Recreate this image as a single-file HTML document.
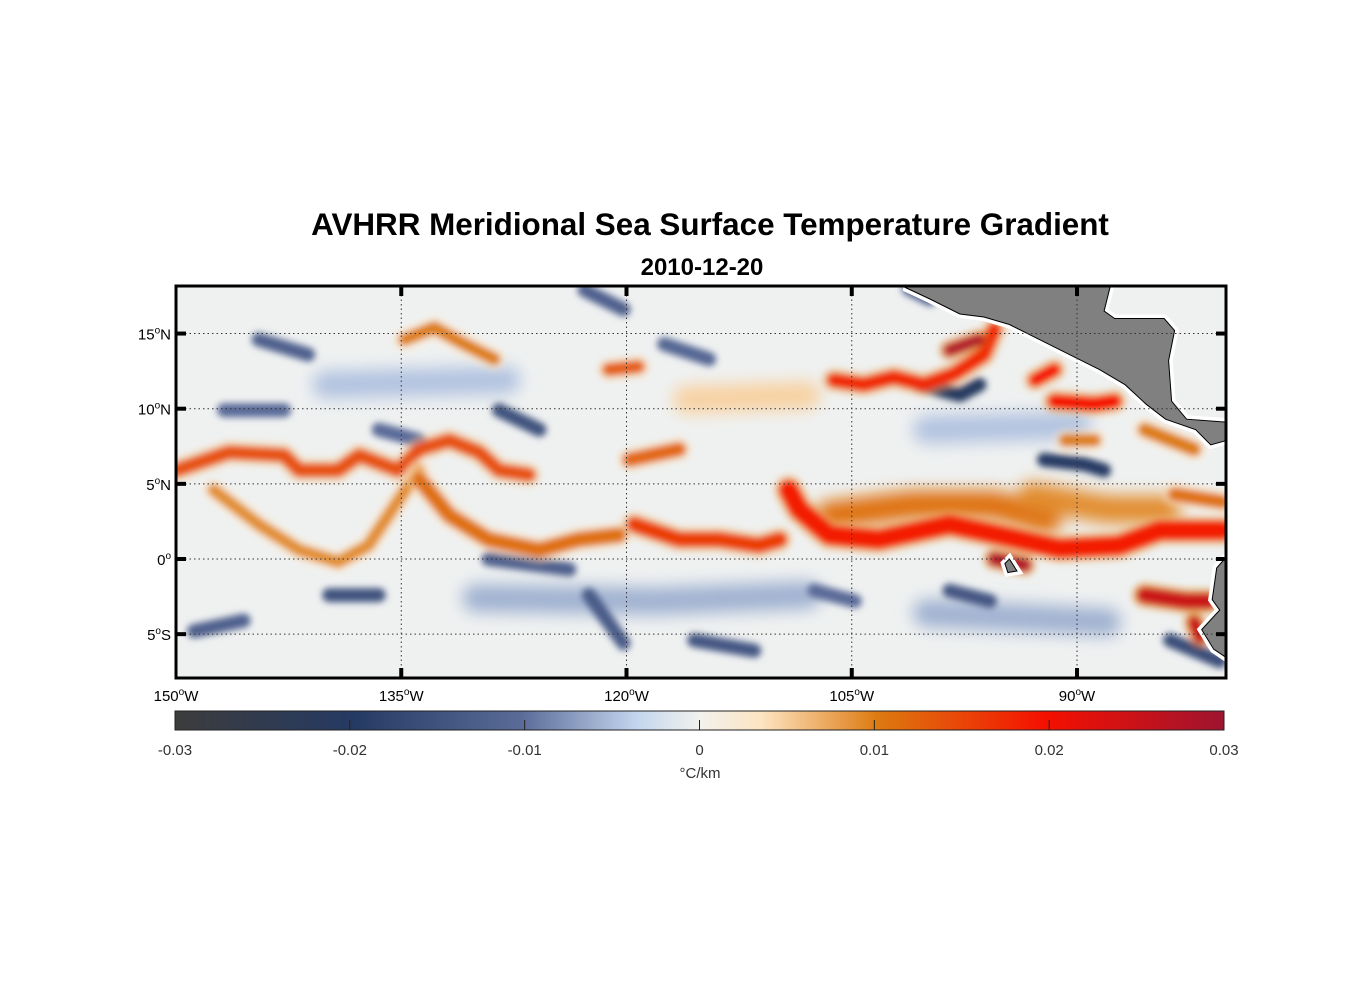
<!DOCTYPE html>
<html><head><meta charset="utf-8"><style>
body{margin:0;background:#fff;font-family:"Liberation Sans",Arial,sans-serif}
</style></head><body>
<svg width="1356" height="1000" viewBox="0 0 1356 1000" xmlns="http://www.w3.org/2000/svg" font-family="Liberation Sans, Arial, sans-serif">
<defs>
<filter id="blur" x="-20%" y="-20%" width="140%" height="140%"><feGaussianBlur stdDeviation="3.5"/></filter>
<filter id="blur2" x="-20%" y="-20%" width="140%" height="140%"><feGaussianBlur stdDeviation="8"/></filter>
<clipPath id="mapclip"><rect x="176" y="286" width="1050" height="392"/></clipPath>
<linearGradient id="cbgrad" x1="0" x2="1" y1="0" y2="0">
<stop offset="0" stop-color="#3c3c3c"/><stop offset="0.17" stop-color="#253a63"/>
<stop offset="0.33" stop-color="#5a6b98"/><stop offset="0.44" stop-color="#c3d5ee"/>
<stop offset="0.5" stop-color="#f2f2ee"/><stop offset="0.56" stop-color="#fde3c0"/>
<stop offset="0.67" stop-color="#dd7a10"/><stop offset="0.83" stop-color="#f51000"/>
<stop offset="1" stop-color="#9e1430"/></linearGradient>
</defs>
<text x="710" y="235" text-anchor="middle" font-size="31.4" font-weight="bold">AVHRR Meridional Sea Surface Temperature Gradient</text>
<text x="702" y="275" text-anchor="middle" font-size="24" font-weight="bold">2010-12-20</text>
<g clip-path="url(#mapclip)">
<rect x="176" y="286" width="1050" height="392" fill="#eff1f1"/>
<g id="soft" filter="url(#blur2)"></g>
<g id="field" filter="url(#blur)"></g>
<g id="land"></g>
</g>
<g id="grid"></g>
<rect x="176" y="286" width="1050" height="392" fill="none" stroke="#000" stroke-width="3"/>
<g id="axes"></g>
<rect x="175" y="711" width="1049" height="19" fill="url(#cbgrad)" stroke="#222" stroke-width="1"/>
<g id="cbticks"></g>
<text x="700" y="778" text-anchor="middle" font-size="15" fill="#333">°C/km</text>
</svg>
<script>
const lonTicks=[-150,-135,-120,-105,-90];
const latTicks=[15,10,5,0,-5];
const cbTicks=[-0.03,-0.02,-0.01,0,0.01,0.02,0.03];
const cbLabels=["-0.03","-0.02","-0.01","0","0.01","0.02","0.03"];
const frontValues=[0.014,0.009,0.011,0.016,0.012,0.019,0.018,0.028,0.02,0.02,0.025,0.025,0.028,0.01,0.013,0.01,0.01,0.011];
const frontWidths=[0.9,0.8,1.0,1.0,0.9,1.3,0.9,0.7,0.8,0.9,1.0,0.8,0.8,0.8,0.8,0.8,0.9,0.9];
const frontPaths=[
[[-150,5.9],[-146.5,7.1],[-142.8,6.9],[-141.8,5.9],[-139.2,5.9],[-137.8,6.9],[-135.2,5.9],[-133.8,7.3],[-131.8,7.9],[-129.8,7.1],[-128.5,5.9],[-126.5,5.6]],
[[-147.5,4.6],[-144.5,2.3],[-141.8,0.6],[-139.2,-0.2],[-137.2,0.9],[-135.2,3.9],[-133.8,5.9]],
[[-133.8,5.3],[-131.8,2.9],[-129.2,1.3],[-125.8,0.6],[-123.2,1.3],[-120.5,1.6]],
[[-119.5,2.3],[-116.5,1.3],[-113.8,1.3],[-111.2,0.9],[-109.8,1.3]],
[[-119.8,6.6],[-116.5,7.3]],
[[-109.2,4.6],[-108.5,3.3],[-106.5,1.6],[-103.2,1.3],[-98.5,2.3],[-95.2,1.6],[-91.2,0.7],[-87.2,0.9],[-84.5,1.9],[-80.3,1.9]],
[[-106.2,11.9],[-104.2,11.6],[-102.2,12.1],[-100.2,11.6],[-98.2,12.3],[-96.2,13.6],[-95.5,15.3]],
[[-98.5,13.9],[-96.5,14.6]],
[[-92.8,11.9],[-91.5,12.6]],
[[-91.5,10.5],[-88.8,10.3],[-87.5,10.5]],
[[-85.5,-2.4],[-82.8,-2.8],[-81.2,-2.8]],
[[-82.2,-4.2],[-81.8,-5.2]],
[[-95.5,0],[-93.5,-0.4]],
[[-134.8,14.6],[-132.8,15.4],[-130.8,14.3],[-128.8,13.3]],
[[-121.2,12.6],[-119.2,12.8]],
[[-90.8,7.9],[-88.8,7.9]],
[[-85.5,8.6],[-82.2,7.3]],
[[-83.5,4.3],[-80.3,3.8]]
];
const broadValues=[0.011,0.009,-0.006,-0.006,-0.005,0.005,-0.005];
const broadPaths=[
[[-106.5,2.9],[-101,3.6],[-95.5,3.6],[-92,2.6]],
[[-93,4.2],[-88,3.3],[-84,3.3]],
[[-130,-2.6],[-118,-2.8],[-108,-2.4]],
[[-100,-3.6],[-88,-4.2]],
[[-140,11.6],[-128,11.9]],
[[-116,10.6],[-108,10.9]],
[[-100,8.6],[-90,8.9]]
];
const eddyValues=[-0.015,-0.015,-0.021,-0.02,-0.014,-0.012,-0.012,-0.014,-0.016,-0.01,-0.012,-0.01,-0.01,-0.012,-0.013,-0.012,-0.011];
const eddyPaths=[
[[-128.5,9.9],[-125.8,8.6]],
[[-139.8,-2.4],[-136.5,-2.4]],
[[-100.5,11.6],[-97.8,10.9],[-96.5,11.6]],
[[-92.2,6.6],[-89.5,6.3],[-88.2,5.9]],
[[-115.5,-5.4],[-111.5,-6.1]],
[[-129.2,0],[-123.8,-0.7]],
[[-101.2,18],[-99.8,17.3]],
[[-98.5,-2.1],[-95.8,-2.8]],
[[-83.8,-5.4],[-80.5,-6.8]],
[[-146.8,9.9],[-142.8,9.9]],
[[-122.8,17.9],[-120.2,16.6]],
[[-136.5,8.6],[-133.8,7.9]],
[[-107.5,-2.1],[-104.8,-2.8]],
[[-148.8,-4.8],[-145.5,-4.1]],
[[-122.5,-2.4],[-120.2,-5.6]],
[[-144.5,14.6],[-141.2,13.6]],
[[-117.5,14.3],[-114.5,13.3]]
];
const landPolys=[
[[-101.5,18.1],[-87.8,18.1],[-88.2,16.5],[-87.5,16.0],[-84.2,16.0],[-83.5,15.2],[-83.9,13.2],[-83.7,10.5],[-82.7,9.3],[-80,9.1],[-80,7.9],[-81.1,7.6],[-82.1,8.6],[-84.1,9.3],[-85.4,10.3],[-86.8,11.6],[-88.5,12.6],[-90.5,13.6],[-92.5,14.6],[-94.5,15.6],[-96.2,16.1],[-97.8,16.3],[-99.8,17.3]],
[[-80,0.2],[-80.7,-0.6],[-81.0,-2.7],[-80.5,-3.4],[-81.7,-4.7],[-80.9,-6],[-80,-6.6]],
[[-94.5,0],[-94.0,-0.8],[-94.6,-0.9],[-94.8,-0.3]]
];
const X=lon=>176+(lon+150)*15.017;
const Y=lat=>559-lat*15.03;
const NS="http://www.w3.org/2000/svg";
function col(v){
 const s=[[-0.03,[60,60,60]],[-0.02,[37,58,99]],[-0.01,[90,107,152]],[-0.004,[195,213,238]],[0,[242,242,238]],[0.004,[253,227,192]],[0.01,[221,122,16]],[0.02,[245,16,0]],[0.03,[158,20,48]]];
 v=Math.max(-0.03,Math.min(0.03,v));
 for(let i=0;i<s.length-1;i++){if(v<=s[i+1][0]){const t=(v-s[i][0])/(s[i+1][0]-s[i][0]);const c=s[i][1].map((a,k)=>Math.round(a+(s[i+1][1][k]-a)*t));return`rgb(${c})`;}}
 return"rgb(158,20,48)";
}
const pathD=pts=>pts.map((p,i)=>(i?"L":"M")+X(p[0]).toFixed(1)+","+Y(p[1]).toFixed(1)).join("");
const soft=document.getElementById("soft");
broadPaths.forEach((pts,i)=>{
 const p=document.createElementNS(NS,"path");
 p.setAttribute("d",pathD(pts));p.setAttribute("fill","none");p.setAttribute("stroke",col(broadValues[i]));
 p.setAttribute("stroke-width",28);p.setAttribute("stroke-linecap","round");p.setAttribute("stroke-linejoin","round");
 
 
 soft.appendChild(p);
});
const field=document.getElementById("field");
eddyPaths.forEach((pts,i)=>{
 const p=document.createElementNS(NS,"path");
 p.setAttribute("d",pathD(pts));p.setAttribute("fill","none");p.setAttribute("stroke",col(eddyValues[i]));
 p.setAttribute("stroke-width",14);p.setAttribute("stroke-linecap","round");p.setAttribute("stroke-linejoin","round");
 
 
 field.appendChild(p);
});
frontPaths.forEach((pts,i)=>{
 const h=document.createElementNS(NS,"path");
 h.setAttribute("d",pathD(pts));h.setAttribute("fill","none");h.setAttribute("stroke",col(frontValues[i]*0.4));
 h.setAttribute("stroke-width",frontWidths[i]*15.03+10);h.setAttribute("stroke-linecap","round");h.setAttribute("stroke-linejoin","round");h.setAttribute("opacity","0.5");
 
 
 field.appendChild(h);
 const p=document.createElementNS(NS,"path");
 p.setAttribute("d",pathD(pts));p.setAttribute("fill","none");p.setAttribute("stroke",col(frontValues[i]));
 p.setAttribute("stroke-width",frontWidths[i]*15.03);p.setAttribute("stroke-linecap","round");p.setAttribute("stroke-linejoin","round");
 
 
 field.appendChild(p);
});
const land=document.getElementById("land");
landPolys.forEach(pts=>{
 const p=document.createElementNS(NS,"path");
 p.setAttribute("d",pathD(pts)+"Z");p.setAttribute("fill","#808080");p.setAttribute("stroke","#fff");p.setAttribute("stroke-width","8");p.setAttribute("paint-order","stroke");
 
 
 land.appendChild(p);
 const o=document.createElementNS(NS,"path");
 o.setAttribute("d",pathD(pts)+"Z");o.setAttribute("fill","#808080");o.setAttribute("stroke","#000");o.setAttribute("stroke-width","1");
 
 
 land.appendChild(o);
});
const grid=document.getElementById("grid"),axes=document.getElementById("axes");
lonTicks.forEach(l=>{
 const x=X(l);
 if(l>-150){const g=document.createElementNS(NS,"line");g.setAttribute("x1",x);g.setAttribute("x2",x);g.setAttribute("y1",286);g.setAttribute("y2",678);g.setAttribute("stroke","#333");g.setAttribute("stroke-width","1");g.setAttribute("stroke-dasharray","1.5 3");
 
 
 grid.appendChild(g);
 [[286,296],[668,678]].forEach(([a,b])=>{const t=document.createElementNS(NS,"line");t.setAttribute("x1",x);t.setAttribute("x2",x);t.setAttribute("y1",a);t.setAttribute("y2",b);t.setAttribute("stroke","#000");t.setAttribute("stroke-width","4");
 
 
 axes.appendChild(t);});}
 const tx=document.createElementNS(NS,"text");tx.setAttribute("x",x);tx.setAttribute("y",701);tx.setAttribute("text-anchor","middle");tx.setAttribute("font-size","15");
 tx.innerHTML=Math.abs(l)+'<tspan dy="-6" font-size="10">o</tspan><tspan dy="6">W</tspan>';
 
 
 axes.appendChild(tx);
});
latTicks.forEach(l=>{
 const y=Y(l);
 const g=document.createElementNS(NS,"line");g.setAttribute("x1",176);g.setAttribute("x2",1226);g.setAttribute("y1",y);g.setAttribute("y2",y);g.setAttribute("stroke","#333");g.setAttribute("stroke-width","1");g.setAttribute("stroke-dasharray","1.5 3");
 
 
 grid.appendChild(g);
 [[176,186],[1216,1226]].forEach(([a,b])=>{const t=document.createElementNS(NS,"line");t.setAttribute("x1",a);t.setAttribute("x2",b);t.setAttribute("y1",y);t.setAttribute("y2",y);t.setAttribute("stroke","#000");t.setAttribute("stroke-width","4");
 
 
 axes.appendChild(t);});
 const tx=document.createElementNS(NS,"text");tx.setAttribute("x",171);tx.setAttribute("y",y+6);tx.setAttribute("text-anchor","end");tx.setAttribute("font-size","15");
 const h=l>0?"N":(l<0?"S":"");
 tx.innerHTML=Math.abs(l)+'<tspan dy="-6" font-size="10">o</tspan><tspan dy="6">'+h+'</tspan>';
 
 
 axes.appendChild(tx);
});
const cb=document.getElementById("cbticks");
const CX=v=>175+(v+0.03)/0.06*1049;
cbTicks.forEach((v,i)=>{
 const x=CX(v);
 if(i>0&&i<cbTicks.length-1){const t=document.createElementNS(NS,"line");t.setAttribute("x1",x);t.setAttribute("x2",x);t.setAttribute("y1",720);t.setAttribute("y2",730);t.setAttribute("stroke","#222");
 
 
 cb.appendChild(t);}
 const tx=document.createElementNS(NS,"text");tx.setAttribute("x",x);tx.setAttribute("y",755);tx.setAttribute("text-anchor","middle");tx.setAttribute("font-size","15");tx.setAttribute("fill","#333");
 tx.textContent=cbLabels[i];
 
 
 cb.appendChild(tx);
});
</script>
</body></html>
